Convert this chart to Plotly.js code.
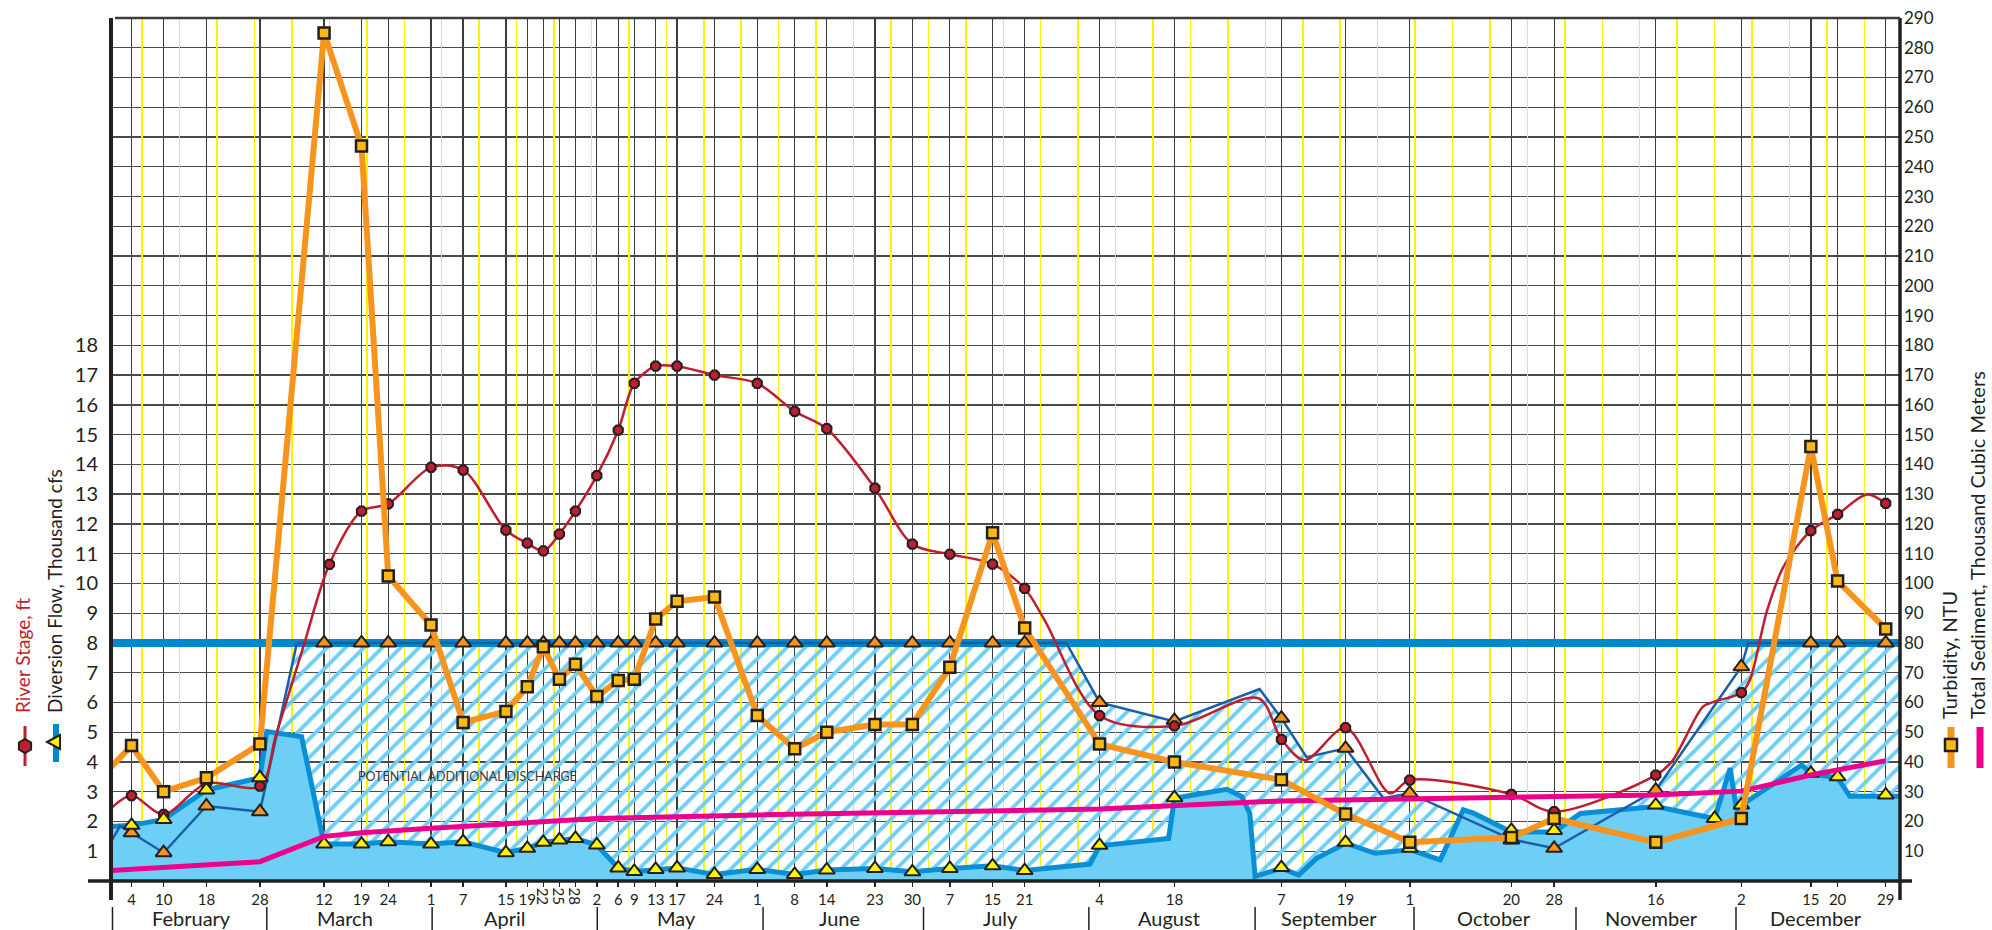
<!DOCTYPE html>
<html>
<head>
<meta charset="utf-8">
<script src="https://cdn.plot.ly/plotly-3.0.1.min.js"></script>
<style>html,body{margin:0;padding:0;background:#fff;}#chart{width:1992px;height:930px;}</style>
</head>
<body>
<div id="chart"></div>
<script>
// ---------------- DATA ----------------
const tickDates = ['2011-02-04','2011-02-10','2011-02-18','2011-02-28','2011-03-12','2011-03-19','2011-03-24','2011-04-01','2011-04-07','2011-04-15','2011-04-19','2011-04-22','2011-04-25','2011-04-28','2011-05-02','2011-05-06','2011-05-09','2011-05-13','2011-05-17','2011-05-24','2011-06-01','2011-06-08','2011-06-14','2011-06-23','2011-06-30','2011-07-07','2011-07-15','2011-07-21','2011-08-04','2011-08-18','2011-09-07','2011-09-19','2011-10-01','2011-10-20','2011-10-28','2011-11-16','2011-12-02','2011-12-15','2011-12-20','2011-12-29'];
const tickText = ['4','10','18','28','12','19','24','1','7','15','19','','','','2','6','9','13','17','24','1','8','14','23','30','7','15','21','4','18','7','19','1','20','28','16','2','15','20','29'];
const rotatedTickDates = ['2011-04-22','2011-04-25','2011-04-28'];
const rotatedTickText = ['22','25','28'];

const monthNames = ['February','March','April','May','June','July','August','September','October','November','December'];
const monthLabelDates = ['2011-02-15 07:00','2011-03-16 00:00','2011-04-14 19:00','2011-05-16 22:00','2011-06-16 07:00','2011-07-16 10:00','2011-08-17 00:00','2011-09-15 22:00','2011-10-16 19:00','2011-11-15 07:00','2011-12-15 22:00'];
const monthSepDates = ['2011-01-31 10:30','2011-03-01 07:00','2011-04-01 05:00','2011-05-02 02:00','2011-06-02 02:00','2011-07-02 02:00','2011-08-02 00:00','2011-09-02 02:00','2011-10-01 19:00','2011-11-01 02:00','2011-12-01 00:00'];

const xStart = '2011-01-31 03:50', xEnd = '2011-12-31 16:00';

// Turbidity, NTU (right axis)
const turbDates = ['2011-01-31 03:50'].concat(tickDates);
const turbValues = [38.3,45.5,30,34.7,46,285,247,102.5,86,53.3,57,65.3,78.7,67.8,72.8,62,67.4,67.8,88,94,95.4,55.6,44.4,50,52.6,52.6,71.8,117,85,46,40,34,22.5,13,14.6,21,13,21,146,100.8,84.7];

// River stage, ft (left axis) - sampled points (markers)
const stageDates = ['2011-02-04','2011-02-10','2011-02-18','2011-02-28','2011-03-13','2011-03-19','2011-03-24','2011-04-01','2011-04-07','2011-04-15','2011-04-19','2011-04-22','2011-04-25','2011-04-28','2011-05-02','2011-05-06','2011-05-09','2011-05-13','2011-05-17','2011-05-24','2011-06-01','2011-06-08','2011-06-14','2011-06-23','2011-06-30','2011-07-07','2011-07-15','2011-07-21','2011-08-04','2011-08-18','2011-09-07','2011-09-19','2011-10-01','2011-10-20','2011-10-28','2011-11-16','2011-12-02','2011-12-15','2011-12-20','2011-12-29'];
const stageValues = [2.87,2.24,3.28,3.19,10.64,12.43,12.67,13.9,13.81,11.79,11.35,11.09,11.66,12.43,13.62,15.15,16.72,17.3,17.3,17.0,16.72,15.78,15.2,13.2,11.32,10.98,10.65,9.83,5.56,5.21,4.76,5.15,3.39,2.91,2.33,3.56,6.33,11.77,12.32,12.69];
// River stage continuous curve
const stageCurveDates = ['2011-01-31 03:50','2011-02-04','2011-02-10','2011-02-18','2011-02-28','2011-03-03','2011-03-08','2011-03-13','2011-03-19','2011-03-24','2011-04-01','2011-04-07','2011-04-15','2011-04-19','2011-04-22','2011-04-25','2011-04-28','2011-05-02','2011-05-06','2011-05-09','2011-05-13','2011-05-17','2011-05-24','2011-06-01','2011-06-08','2011-06-14','2011-06-23','2011-06-30','2011-07-07','2011-07-15','2011-07-21','2011-07-24 17:00','2011-08-04','2011-08-18','2011-09-02 17:00','2011-09-07','2011-09-11 10:00','2011-09-19','2011-09-27 07:00','2011-10-01','2011-10-20','2011-10-28','2011-11-16','2011-11-19','2011-11-24 20:00','2011-11-26 20:00','2011-12-02','2011-12-03 14:00','2011-12-06 20:00','2011-12-09 22:00','2011-12-15','2011-12-20','2011-12-25 12:00','2011-12-29'];
const stageCurveValues = [2.44,2.87,2.24,3.28,3.19,4.9,7.8,10.64,12.43,12.67,13.9,13.81,11.79,11.35,11.09,11.66,12.43,13.62,15.15,16.72,17.3,17.3,17.0,16.72,15.78,15.2,13.2,11.32,10.98,10.65,9.83,8.77,5.56,5.21,6.14,4.76,4.06,5.15,2.95,3.39,2.91,2.33,3.56,4.01,5.86,6.02,6.33,6.75,9.1,10.57,11.77,12.32,12.99,12.69];

// Diversion flow, thousand cfs (left axis)
const capacityDates = [xStart, xEnd];
const capacityValues = [8, 8];
// flow path (thin dark blue line)
const flowLineDates = ['2011-01-31 03:50','2011-02-01 21:00','2011-02-04','2011-02-10','2011-02-18','2011-02-28','2011-03-06 22:00','2011-07-28 19:00','2011-08-04','2011-08-18','2011-09-02 22:00','2011-09-07','2011-09-11 17:00','2011-09-19','2011-09-26 02:00','2011-10-01','2011-10-20','2011-10-28','2011-11-16','2011-12-02','2011-12-03 07:00','2011-12-31 16:00'];
const flowLineValues = [1.32,1.85,1.62,0.95,2.52,2.33,8,8,6.0,5.36,6.45,5.47,4.16,4.46,2.78,2.95,1.4,1.1,3.05,7.2,8,8];
const flowMarkerValues = [1.62,0.95,2.52,2.33,8,8,8,8,8,8,8,8,8,8,8,8,8,8,8,8,8,8,8,8,8,8,8,8,6.0,5.4,5.47,4.46,2.95,1.38,1.1,3.05,7.2,8,8,8];
// discharge area (light blue)
const dischargeDates = ['2011-01-31 03:50','2011-02-04','2011-02-10','2011-02-18','2011-02-28','2011-03-01 07:00','2011-03-07 19:00','2011-03-12','2011-03-19','2011-03-24','2011-04-01','2011-04-07','2011-04-15','2011-04-19','2011-04-22','2011-04-25','2011-04-28','2011-05-02','2011-05-06','2011-05-09','2011-05-13','2011-05-17','2011-05-24','2011-06-01','2011-06-08','2011-06-14','2011-06-23','2011-06-30','2011-07-07','2011-07-15','2011-07-21','2011-08-02 05:00','2011-08-04','2011-08-16 22:00','2011-08-18','2011-08-27 19:00','2011-08-30 14:00','2011-09-01 02:00','2011-09-02 02:00','2011-09-07','2011-09-10 05:00','2011-09-13 14:00','2011-09-19','2011-09-24 12:00','2011-10-01','2011-10-06 17:00','2011-10-11','2011-10-12 22:00','2011-10-20','2011-10-28','2011-11-01 22:00','2011-11-16','2011-11-27','2011-11-29 22:00','2011-12-01 02:00','2011-12-02','2011-12-13 07:00','2011-12-15','2011-12-20','2011-12-22 07:00','2011-12-31 16:00'];
const dischargeValues = [1.83,1.87,2.07,3.06,3.47,5.02,4.85,1.24,1.24,1.32,1.24,1.32,0.95,1.1,1.3,1.38,1.43,1.21,0.44,0.32,0.39,0.44,0.22,0.39,0.22,0.37,0.42,0.31,0.42,0.51,0.35,0.57,1.18,1.43,2.78,3.08,2.84,2.27,0.15,0.43,0.2,0.76,1.27,0.93,1.05,0.71,2.39,2.28,1.65,1.65,2.27,2.5,2.1,3.79,2.4,2.55,3.9,3.6,3.47,2.85,2.85];
const dischargeMarkerDates = tickDates.slice(0,35).concat(['2011-11-16','2011-11-27','2011-12-02','2011-12-15','2011-12-20','2011-12-29']).filter((d,i,a)=>a.indexOf(d)===i);
const dischargeMarkerValues = [1.87,2.07,3.06,3.47,1.24,1.24,1.32,1.24,1.32,0.95,1.1,1.3,1.38,1.43,1.21,0.44,0.32,0.39,0.44,0.22,0.39,0.22,0.37,0.42,0.31,0.42,0.51,0.35,1.2,2.8,0.45,1.3,1.1,1.7,1.7,2.55,2.1,2.55,3.62,3.5,2.89];

// Total sediment, thousand cubic meters (right axis)
const sedimentDates = ['2011-01-31 03:50','2011-02-28','2011-03-12','2011-03-19','2011-04-01','2011-05-02','2011-06-01','2011-07-01','2011-08-04','2011-09-07','2011-10-01','2011-10-28','2011-11-16','2011-12-02','2011-12-15','2011-12-29'];
const sedimentValues = [3.5,6.5,15,16.2,17.7,21.0,22.2,23.1,24.2,26.9,27.7,28.3,28.9,30.2,35.6,40.4];

const leftTicks = [1,2,3,4,5,6,7,8,9,10,11,12,13,14,15,16,17,18];
const rightTicks = [10,20,30,40,50,60,70,80,90,100,110,120,130,140,150,160,170,180,190,200,210,220,230,240,250,260,270,280,290];

// ---------------- STYLE / GEOMETRY ----------------
const DARK = '#231f20', RED = '#be1e2d', ORANGE = '#f7941d', GOLD = '#fdb913', YEL = '#fff200',
      LBLUE = '#6dcff6', BLUE = '#0a8fd6', CAPBLUE = '#0088cf', THIN = '#1b5ea8', PINK = '#ec008c';
const P = {l:111, r:1900, t:18, b:881};
const fx = px => (px - P.l) / (P.r - P.l);
const fy = py => (P.b - py) / (P.b - P.t);
const FONT = 'Lato, "Open Sans", sans-serif';

const traces = [
  {x: dischargeDates, y: dischargeValues, type:'scatter', mode:'lines', line:{width:0, color:'rgba(0,0,0,0)'}, hoverinfo:'skip'},
  {x: flowLineDates, y: flowLineValues, type:'scatter', mode:'lines', line:{width:0, color:'rgba(0,0,0,0)'},
   fill:'tonexty', fillcolor:'rgba(255,255,255,0)',
   fillpattern:{shape:'/', fgcolor:LBLUE, bgcolor:'rgba(255,255,255,0)', size:13, solidity:0.3}, hoverinfo:'skip'},
  {x: dischargeDates, y: dischargeValues, type:'scatter', mode:'lines', fill:'tozeroy', fillcolor:LBLUE,
   line:{color:BLUE, width:5}, hoverinfo:'skip'},
  {x: capacityDates, y: capacityValues, type:'scatter', mode:'lines', line:{color:CAPBLUE, width:8}, hoverinfo:'skip'},
  {x: flowLineDates, y: flowLineValues, type:'scatter', mode:'lines', line:{color:THIN, width:2.5}, hoverinfo:'skip'},
  {x: tickDates, y: flowMarkerValues, type:'scatter', mode:'markers',
   marker:{symbol:'triangle-up', size:14, color:ORANGE, line:{color:DARK, width:2}}, hoverinfo:'skip'},
  {x: stageCurveDates, y: stageCurveValues, type:'scatter', mode:'lines', line:{color:RED, width:2.5, shape:'spline', smoothing:0.9}, hoverinfo:'skip'},
  {x: stageDates, y: stageValues, type:'scatter', mode:'markers',
   marker:{symbol:'octagon', size:10, color:RED, line:{color:DARK, width:2}}, hoverinfo:'skip'},
  {x: dischargeMarkerDates, y: dischargeMarkerValues, type:'scatter', mode:'markers',
   marker:{symbol:'triangle-up', size:14, color:YEL, line:{color:DARK, width:2}}, hoverinfo:'skip'},
  {x: [], y: [], type:'scatter', xaxis:'x2', yaxis:'y', hoverinfo:'skip'},
  {x: sedimentDates, y: sedimentValues, type:'scatter', mode:'lines', yaxis:'y2', line:{color:PINK, width:5}, hoverinfo:'skip'},
  {x: turbDates, y: turbValues, type:'scatter', mode:'lines', yaxis:'y2', line:{color:ORANGE, width:6}, hoverinfo:'skip'},
  {x: tickDates, y: turbValues.slice(1), type:'scatter', mode:'markers', yaxis:'y2',
   marker:{symbol:'square', size:11, color:GOLD, line:{color:DARK, width:2.5}}, hoverinfo:'skip'}
];

const shapes = [
  {type:'line', xref:'paper', yref:'paper', x0:0, x1:0, y0:1, y1:fy(900), line:{color:DARK, width:4}},
  {type:'line', xref:'paper', yref:'paper', x0:1, x1:1, y0:1, y1:fy(900), line:{color:DARK, width:3.5}},
  {type:'line', xref:'paper', yref:'paper', x0:fx(115), x1:1, y0:1, y1:1, line:{color:'#3c3c3c', width:2.5}},
  {type:'line', xref:'paper', yref:'paper', x0:fx(88), x1:fx(1912), y0:0, y1:0, line:{color:DARK, width:3.5}},
  {type:'line', xref:'paper', yref:'paper', x0:fx(25), x1:fx(25), y0:fy(726), y1:fy(766), line:{color:RED, width:3}},
  {type:'path', xref:'paper', yref:'paper', xsizemode:'pixel', ysizemode:'pixel', xanchor:fx(25), yanchor:fy(746),
   path:'M0,7 L6.1,3.5 L6.1,-3.5 L0,-7 L-6.1,-3.5 L-6.1,3.5 Z', fillcolor:RED, line:{color:DARK, width:2}},
  {type:'line', xref:'paper', yref:'paper', x0:fx(56), x1:fx(56), y0:fy(724), y1:fy(762), line:{color:CAPBLUE, width:6}},
  {type:'path', xref:'paper', yref:'paper', xsizemode:'pixel', ysizemode:'pixel', xanchor:fx(56), yanchor:fy(742),
   path:'M-9,0 L4,7 L4,-7 Z', fillcolor:YEL, line:{color:DARK, width:2}},
  {type:'line', xref:'paper', yref:'paper', x0:fx(1951), x1:fx(1951), y0:fy(727), y1:fy(768), line:{color:ORANGE, width:7}},
  {type:'path', xref:'paper', yref:'paper', xsizemode:'pixel', ysizemode:'pixel', xanchor:fx(1951), yanchor:fy(745),
   path:'M-6,-6 L6,-6 L6,6 L-6,6 Z', fillcolor:GOLD, line:{color:DARK, width:2.5}},
  {type:'line', xref:'paper', yref:'paper', x0:fx(1980), x1:fx(1980), y0:fy(727), y1:fy(768), line:{color:PINK, width:7}}
];
monthSepDates.forEach(d => shapes.push({type:'line', xref:'x', yref:'paper', x0:d, x1:d, y0:fy(907), y1:fy(930), line:{color:DARK, width:1.5}}));

const annotations = [
  {xref:'paper', yref:'paper', x:fx(22.5), y:fy(714), xanchor:'center', yanchor:'bottom', textangle:-90, showarrow:false, borderpad:0,
   text:'River Stage, ft', font:{family:FONT, size:19, color:RED}},
  {xref:'paper', yref:'paper', x:fx(54), y:fy(714), xanchor:'center', yanchor:'bottom', textangle:-90, showarrow:false, borderpad:0,
   text:'Diversion Flow, Thousand cfs', font:{family:FONT, size:19, color:DARK}},
  {xref:'paper', yref:'paper', x:fx(1949), y:fy(720), xanchor:'center', yanchor:'bottom', textangle:-90, showarrow:false, borderpad:0,
   text:'Turbidity, NTU', font:{family:FONT, size:20, color:DARK}},
  {xref:'paper', yref:'paper', x:fx(1977), y:fy(720), xanchor:'center', yanchor:'bottom', textangle:-90, showarrow:false, borderpad:0,
   text:'Total Sediment, Thousand Cubic Meters', font:{family:FONT, size:20, color:DARK}},
  {xref:'x', yref:'y', x:'2011-04-07 19:00', y:3.5, showarrow:false, text:'POTENTIAL ADDITIONAL DISCHARGE',
   font:{family:FONT, size:12.5, color:'#3a3a3a'}}
];
monthNames.forEach((m,i) => annotations.push({xref:'x', yref:'paper', x:monthLabelDates[i], y:fy(918), yanchor:'middle', showarrow:false,
   text:m, font:{family:FONT, size:20, color:DARK}}));
rotatedTickDates.forEach((d,i) => annotations.push({xref:'x', yref:'paper', x:d, y:fy(896), yanchor:'middle', xanchor:'center', textangle:90, showarrow:false,
   text:rotatedTickText[i], font:{family:FONT, size:15, color:DARK}}));

const layout = {
  width:1992, height:930,
  margin:{l:P.l, r:1992-P.r, t:P.t, b:930-P.b},
  paper_bgcolor:'#fff', plot_bgcolor:'#fff',
  showlegend:false,
  font:{family:FONT, color:DARK},
  xaxis:{type:'date', range:[xStart, xEnd], tickmode:'array', tickvals:tickDates, ticktext:tickText,
         ticks:'outside', ticklen:5, tickwidth:1.5, tickcolor:DARK, tickfont:{family:FONT, size:15, color:DARK},
         showgrid:true, gridcolor:'#3c3c3c', gridwidth:1.3, showline:false, zeroline:false, fixedrange:true},
  xaxis2:{type:'date', overlaying:'x', anchor:'y', range:[xStart, xEnd], tickmode:'linear', tick0:'2011-02-06', dtick:604800000,
          showgrid:true, gridcolor:YEL, gridwidth:1.5, showticklabels:false, ticks:'', showline:false, zeroline:false},
  yaxis:{range:[0,29], tickmode:'array', tickvals:leftTicks, showgrid:false, zeroline:false, ticks:'', showline:false,
         tickfont:{family:FONT, size:20, color:DARK}, ticklabelstandoff:12},
  yaxis2:{range:[0,290], overlaying:'y', side:'right', tickmode:'array', tickvals:rightTicks, showgrid:true, gridcolor:'#4a4a4a', gridwidth:1.3,
          zeroline:false, ticks:'', showline:false, tickfont:{family:FONT, size:17, color:DARK}, ticklabelstandoff:3},
  shapes: shapes,
  annotations: annotations
};

Plotly.newPlot('chart', traces, layout, {staticPlot:true, displayModeBar:false});
</script>
</body>
</html>
